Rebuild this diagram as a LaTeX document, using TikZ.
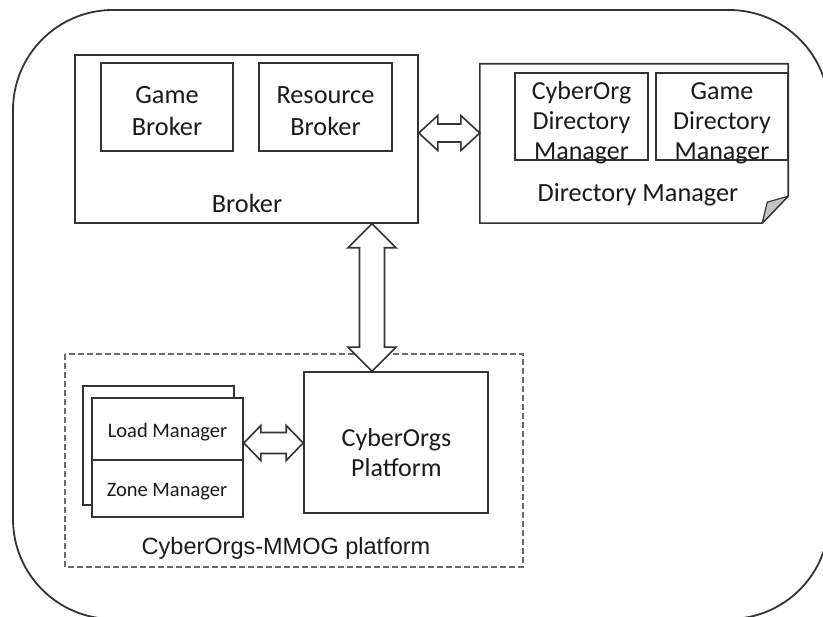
\documentclass[tikz,border=0pt]{standalone}
\usepackage{fontspec}
\setmainfont{Carlito}
\newfontfamily\arialfont{Liberation Sans}
\usetikzlibrary{calc}

\definecolor{edge}{HTML}{333333}
\definecolor{ink}{HTML}{1A1A1A}
\definecolor{dashgray}{HTML}{6A6A6A}
\definecolor{foldgray}{HTML}{C4C4C4}

\tikzset{
  box/.style={draw=edge, line width=1.6pt, fill=white, inner sep=0pt},
  ghost/.style={inner sep=0pt},
  txt/.style={text=ink, inner sep=0pt, align=center},
  bigfont/.style={font=\fontsize{26.3}{32}\selectfont},
  midfont/.style={font=\fontsize{26}{30}\selectfont},
  smallfont/.style={font=\fontsize{20.5}{24}\selectfont},
  arrowbox/.style={draw=edge, line width=1.6pt, fill=white, line join=miter},
  outerframe/.style={draw=edge, line width=1.8pt, rounded corners=100pt},
  groupframe/.style={draw=dashgray, line width=2pt, dash pattern=on 6pt off 3pt}
}

% rectangle node given by its corners (x1,y1) and (x2,y2)
\newcommand{\boxnode}[6]{%
  \node[#6, minimum width={(#4-#2)*1pt}, minimum height={(#5-#3)*1pt}]
    (#1) at ({(#2+#4)/2},{(#3+#5)/2}) {};}

% hollow double-headed block arrow from #2 to #3
% #4 head length, #5 head half-width, #6 shaft half-width
\newcommand{\blockarrow}[6]{%
  \path (#2) coordinate (#1s) (#3) coordinate (#1e);
  \path ($(#1s)!#4!(#1e)$) coordinate (#1p) ($(#1e)!#4!(#1s)$) coordinate (#1q);
  \draw[arrowbox] (#1s)
    -- ($(#1p)!#5!90:(#1e)$) -- ($(#1p)!#6!90:(#1e)$)
    -- ($(#1q)!#6!-90:(#1s)$) -- ($(#1q)!#5!-90:(#1s)$)
    -- (#1e)
    -- ($(#1q)!#5!90:(#1s)$) -- ($(#1q)!#6!90:(#1s)$)
    -- ($(#1p)!#6!-90:(#1e)$) -- ($(#1p)!#5!-90:(#1e)$)
    -- cycle;}

\begin{document}
\begin{tikzpicture}[x=1pt, y=-1pt]
\useasboundingbox (0,0) rectangle (823,617);

% outer frame, partly running off the page
\begin{scope}
  \clip (0,0) rectangle (823,617);
  \draw[outerframe] (13,10) rectangle (829,619);
\end{scope}

% Broker
\boxnode{broker}{75}{55}{418}{223}{box}
\boxnode{gb}{101}{63}{233}{151}{box}
\boxnode{rb}{259}{63}{392}{151}{box}
\node[txt, bigfont] (gbt) at (167,111) {Game\\Broker};
\node[txt, bigfont] (rbt) at (325.5,111) {Resource\\Broker};
\node[txt, bigfont, anchor=base] (brokerlbl) at (247,213) {Broker};

% Directory Manager (page with a folded corner)
\boxnode{dm}{480}{64}{788}{223}{ghost}
\draw[box] (dm.north west) -- (dm.north east) -- ($(dm.south east)+(0,-27)$)
  -- ($(dm.south east)+(-26,0)$) -- (dm.south west) -- cycle;
\draw[draw=edge, line width=1.2pt, fill=foldgray, line join=round]
  ($(dm.south east)+(-26,0)$) -- ($(dm.south east)+(-21,-21)$)
  -- ($(dm.south east)+(0,-27)$) -- cycle;
\boxnode{cdm}{515}{73}{648}{160}{box}
\boxnode{gdm}{656}{73}{788}{160}{box}
\node[txt, midfont] (cdmt) at (581.5,123) {CyberOrg\\Directory\\Manager};
\node[txt, midfont] (gdmt) at (722,123) {Game\\Directory\\Manager};
\node[txt, bigfont, anchor=base] (dmlbl) at (638,202) {Directory Manager};

% CyberOrgs-MMOG platform group
\draw[groupframe] (65,354) rectangle (523,567);
\node[txt, anchor=base, font=\arialfont\fontsize{23.5}{28}\selectfont]
  (grplbl) at (286,555) {CyberOrgs-MMOG platform};
\boxnode{plat}{304}{372}{488}{513}{box}
\node[txt, font=\fontsize{26}{30}\selectfont] (platt) at (396.5,453) {CyberOrgs\\Platform};

% stacked manager boxes
\boxnode{stackback}{83}{386}{234}{505}{box}
\boxnode{lm}{92}{398}{243}{460}{box}
\boxnode{zm}{92}{460}{243}{517}{box}
\node[txt, smallfont, anchor=base] (lmt) at (167.5,438) {Load Manager};
\node[txt, smallfont, anchor=base] (zmt) at (167,497) {Zone Manager};

% connectors
\coordinate (ay) at (0,133);
\coordinate (vx) at (372,0);
\coordinate (by) at (0,443);
\blockarrow{a1}{broker.east |- ay}{dm.west |- ay}{19pt}{17.5pt}{9pt}
\blockarrow{a2}{broker.south -| vx}{plat.north -| vx}{24pt}{24pt}{12.5pt}
\blockarrow{a3}{lm.east |- by}{plat.west |- by}{17pt}{17.5pt}{10.5pt}
\end{tikzpicture}
\end{document}
